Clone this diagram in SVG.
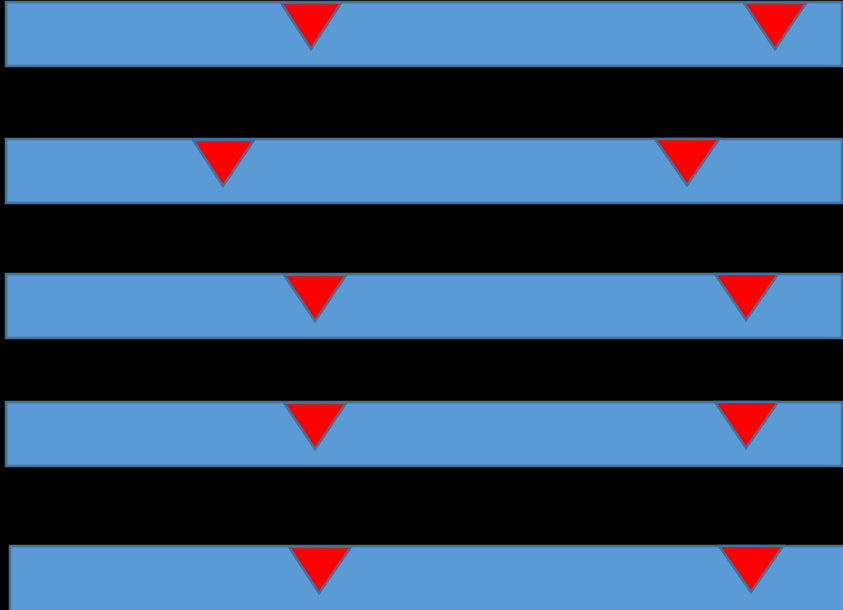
<svg xmlns="http://www.w3.org/2000/svg" width="843" height="610" viewBox="0 0 843 610">
<style>
.bar{fill:#5b9bd5;stroke:#41719c;stroke-width:2.5}
.tri{fill:#ff0000;stroke:#41719c;stroke-width:2.5;stroke-linejoin:miter}
</style>
<rect x="0" y="0" width="843" height="610" fill="#000000"/>
<g id="bar1">
<rect class="bar" x="6" y="2" width="836" height="64"/>
<polygon class="tri" points="281,3 341,3 311,49"/>
<polygon class="tri" points="744,3 806,3 775,49"/>
</g>
<g id="bar2">
<rect class="bar" x="6" y="139" width="836" height="64"/>
<polygon class="tri" points="193,140 254,140 223,186"/>
<polygon class="tri" points="655,139 719,139 687,185"/>
</g>
<g id="bar3">
<rect class="bar" x="6" y="274" width="836" height="64"/>
<polygon class="tri" points="284,275 346,275 315,321"/>
<polygon class="tri" points="715,274 778,274 746,320"/>
</g>
<g id="bar4">
<rect class="bar" x="6" y="402" width="836" height="64"/>
<polygon class="tri" points="284,403 346,403 315,449"/>
<polygon class="tri" points="715,402 778,402 746,448"/>
</g>
<g id="bar5">
<rect class="bar" x="10" y="546" width="836" height="66"/>
<polygon class="tri" points="289,547 351,547 319,593"/>
<polygon class="tri" points="719,546 783,546 751,592"/>
</g>
<g id="connectors"></g>
</svg>
